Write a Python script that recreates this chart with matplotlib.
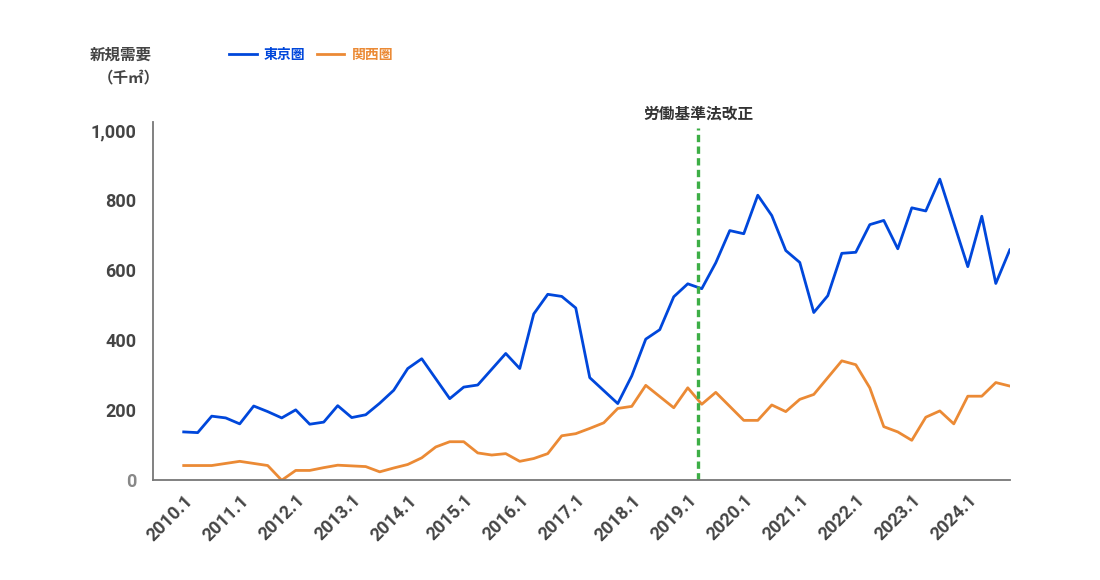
import numpy as np
import matplotlib
matplotlib.use('Agg')
import matplotlib.pyplot as plt

plt.rcParams['font.family'] = ['Noto Sans CJK JP', 'DejaVu Sans']

# quarterly, 2010.1 .. 2024.4
years = list(range(2010, 2025))
quarters = ['%d.%d' % (y, q) for y in years for q in range(1, 5)]
tick_labels = ['%d.1' % y for y in years]

tokyo = [138, 136, 183, 178, 161, 212, 196, 178, 201, 160,
         166, 213, 179, 187, 220, 257, 319, 347, 290, 233,
         266, 272, 317, 362, 319, 475, 531, 525, 492, 293,
         256, 219, 298, 403, 430, 524, 561, 547, 621, 713,
         704, 814, 756, 656, 622, 479, 527, 648, 651, 730,
         742, 661, 778, 769, 860, 735, 610, 754, 562, 658]
kansai = [42, 42, 42, 48, 54, 48, 42, 0, 28, 28,
          36, 43, 41, 39, 24, 35, 45, 64, 95, 110,
          110, 78, 72, 76, 54, 62, 76, 127, 133, 148,
          164, 205, 211, 271, 239, 207, 264, 217, 251, 211,
          171, 171, 215, 196, 231, 245, 293, 341, 330, 264,
          153, 138, 114, 180, 198, 161, 240, 240, 279, 269]
reform_q = 36.75   # 2019年4月
reform_label = '労働基準法改正'

x = np.arange(len(quarters))

fig = plt.figure(figsize=(11, 5.8), dpi=100)
ax = fig.add_axes([0.139, 0.172, 0.779, 0.617])

ax.plot(x, tokyo, color='#0047DB', lw=2.0, label='東京圏')
ax.plot(x, kansai, color='#EB8A35', lw=2.0, label='関西圏')
ax.axvline(reform_q, ymin=0, ymax=0.985, color='#3DAE46', lw=2.4,
           linestyle=(0, (2.2, 1.3)))
ax.text(reform_q, 1025, reform_label, ha='center', va='bottom',
        fontsize=11.3, color='#333333', fontweight='bold')

ax.set_xlim(-2.2, 59)
ax.set_ylim(0, 1022)
ax.set_yticks([0, 200, 400, 600, 800, 1000])
ax.set_yticklabels(['0', '200', '400', '600', '800', '1,000'])
ax.set_xticks(x[::4])
ax.set_xticklabels(tick_labels)

num_font = ['Roboto', 'DejaVu Sans']
for lab in ax.get_yticklabels():
    lab.set_family(num_font)
    lab.set_fontweight('bold')
    lab.set_fontsize(13)
    lab.set_color('#444444')
ax.get_yticklabels()[0].set_color('#888888')
for lab in ax.get_xticklabels():
    lab.set_family(num_font)
    lab.set_fontweight('bold')
    lab.set_fontsize(13)
    lab.set_color('#444444')
    lab.set_rotation(45)
    lab.set_ha('right')
    lab.set_va('top')
    lab.set_rotation_mode('anchor')

ax.tick_params(length=0, pad=12)
ax.tick_params(axis='x', pad=8)
for s in ['top', 'right']:
    ax.spines[s].set_visible(False)
for s in ['left', 'bottom']:
    ax.spines[s].set_color('#777777')
    ax.spines[s].set_linewidth(1.3)

fig.text(0.110, 0.905, '新規需要', ha='center', va='center', fontsize=11.2,
         color='#444444', fontweight='bold')
fig.text(0.117, 0.866, '（千㎡）', ha='center', va='center', fontsize=11.2,
         color='#444444', fontweight='bold')

leg = ax.legend(loc='center left', bbox_to_anchor=(0.197, 0.905),
                bbox_transform=fig.transFigure, ncol=2, frameon=False,
                handlelength=2.0, handletextpad=0.5,
                columnspacing=0.8, labelcolor='linecolor',
                prop={'weight': 'bold', 'size': 10})

fig.savefig('out.png', dpi=100)
